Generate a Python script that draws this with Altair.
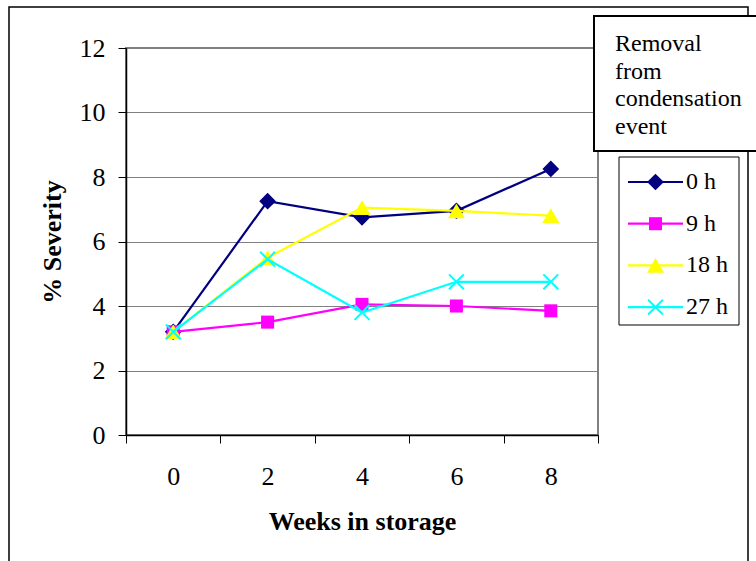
import altair as alt
import pandas as pd

# Storage time (weeks) and the removal delay of each series
weeks = ["0", "2", "4", "6", "8"]
series = ["0 h", "9 h", "18 h", "27 h"]

# % severity per series, one value per week in storage
sev_0h = [3.2, 7.25, 6.75, 6.95, 8.25]
sev_9h = [3.2, 3.5, 4.05, 4.0, 3.85]
sev_18h = [3.2, 5.5, 7.05, 6.95, 6.8]
sev_27h = [3.2, 5.45, 3.8, 4.75, 4.75]

legend_title = ["Removal", "from", "condensation", "event"]

colors = ["#000080", "#FF00FF", "#FFFF00", "#00FFFF"]
X_PATH = "M-1,-1L1,1M-1,1L1,-1"
# (shape, filled, size) for each series' markers
markers = [
    ("diamond", True, 280),
    ("square", True, 170),
    ("triangle-up", True, 290),
    (X_PATH, False, 220),
]

FONT = "'Liberation Serif', 'Times New Roman', Times, serif"
W, H = 472, 387

rows = []
for name, vals in zip(series, [sev_0h, sev_9h, sev_18h, sev_27h]):
    for w, v in zip(weeks, vals):
        rows.append({"week": w, "series": name, "severity": v})
df = pd.DataFrame(rows)

x_enc = alt.X(
    "week:O",
    scale=alt.Scale(type="band", domain=weeks, paddingInner=0, paddingOuter=0),
    bandPosition=0.5,
    axis=alt.Axis(
        title="Weeks in storage",
        tickBand="extent",
        labelAngle=0,
        labelFont=FONT,
        labelFontSize=26,
        labelColor="black",
        labelPadding=20,
        tickSize=8,
        tickColor="black",
        tickWidth=1,
        domainColor="black",
        domainWidth=1.5,
        grid=False,
        titleFont=FONT,
        titleFontSize=26,
        titleFontWeight="bold",
        titleColor="black",
        titleX=236,
        titleY=94,
        titleBaseline="alphabetic",
        titleAlign="center",
    ),
)
y_enc = alt.Y(
    "severity:Q",
    scale=alt.Scale(domain=[0, 12], nice=False),
    axis=alt.Axis(
        title="% Severity",
        values=[0, 2, 4, 6, 8, 10, 12],
        grid=True,
        gridColor="#808080",
        gridWidth=1,
        labelFont=FONT,
        labelFontSize=26,
        labelColor="black",
        labelPadding=13,
        tickSize=8,
        tickColor="black",
        tickWidth=1,
        domainColor="black",
        domainWidth=1.5,
        titleFont=FONT,
        titleFontSize=26,
        titleFontWeight="bold",
        titleColor="black",
        titleAngle=270,
        titleX=-66,
        titleY=193.5,
        titleAlign="center",
        titleBaseline="alphabetic",
    ),
)
color_enc = alt.Color(
    "series:N", scale=alt.Scale(domain=series, range=colors), legend=None
)


def point_mark(chart, spec):
    shape, filled, size = spec
    if filled:
        return chart.mark_point(shape=shape, filled=True, size=size, opacity=1)
    return chart.mark_point(
        shape=shape, filled=False, size=size, opacity=1, strokeWidth=2
    )


one_row = alt.Data(values=[{}])

# Outer chart frame
frame = alt.Chart(one_row).mark_rect(
    fillOpacity=0, stroke="black", strokeWidth=1.5
).encode(
    x=alt.value(-117), x2=alt.value(622), y=alt.value(-41), y2=alt.value(700)
)

# One line + marker layer per series, drawn in series order
data_layers = []
for name, spec in zip(series, markers):
    base = (
        alt.Chart(df)
        .transform_filter(alt.datum.series == name)
        .encode(x=x_enc, y=y_enc, color=color_enc)
    )
    data_layers.append(base.mark_line(strokeWidth=2.2))
    data_layers.append(point_mark(base, spec))

# Legend title box
title_box = alt.Chart(one_row).mark_rect(
    fill="white", stroke="black", strokeWidth=2
).encode(
    x=alt.value(468), x2=alt.value(700), y=alt.value(-32), y2=alt.value(103)
)
title_text = alt.Chart(one_row).mark_text(
    align="left",
    baseline="alphabetic",
    font=FONT,
    fontSize=24,
    lineHeight=27.5,
    color="black",
).encode(x=alt.value(489), y=alt.value(3), text=alt.value(legend_title))

# Series legend
legend_box = alt.Chart(one_row).mark_rect(
    fill="white", stroke="black", strokeWidth=1
).encode(
    x=alt.value(493), x2=alt.value(613), y=alt.value(109), y2=alt.value(277)
)
legend_df = pd.DataFrame({"series": series, "row": list(range(len(series)))})
LEG_TOP, LEG_STEP = 134, 41.7
legend_base = alt.Chart(legend_df).transform_calculate(
    ly=f"{LEG_TOP} + datum.row * {LEG_STEP}"
)
ly_enc = alt.Y("ly:Q", scale=None, axis=None)
legend_lines = legend_base.mark_rule(strokeWidth=2.2).encode(
    y=ly_enc, x=alt.value(502), x2=alt.value(557), color=color_enc
)
legend_pts = []
for name, spec in zip(series, markers):
    b = legend_base.transform_filter(alt.datum.series == name).encode(
        y=ly_enc, x=alt.value(529.5), color=color_enc
    )
    legend_pts.append(point_mark(b, spec))
legend_text = legend_base.mark_text(
    align="left", baseline="middle", font=FONT, fontSize=24, color="black"
).encode(y=ly_enc, x=alt.value(560), text="series:N")

chart = (
    alt.layer(
        frame,
        *data_layers,
        title_box,
        title_text,
        legend_box,
        legend_lines,
        *legend_pts,
        legend_text,
    )
    .properties(
        width=W,
        height=H,
        padding={"left": 126, "top": 48, "right": 158, "bottom": 126},
        autosize=alt.AutoSizeParams(type="none"),
        background="white",
    )
    .configure_view(stroke="#808080", strokeWidth=2)
    .configure_axis(labelFont=FONT, titleFont=FONT)
    .configure_text(font=FONT)
)

chart.save("out.html", embed_options={"renderer": "svg", "actions": False})
